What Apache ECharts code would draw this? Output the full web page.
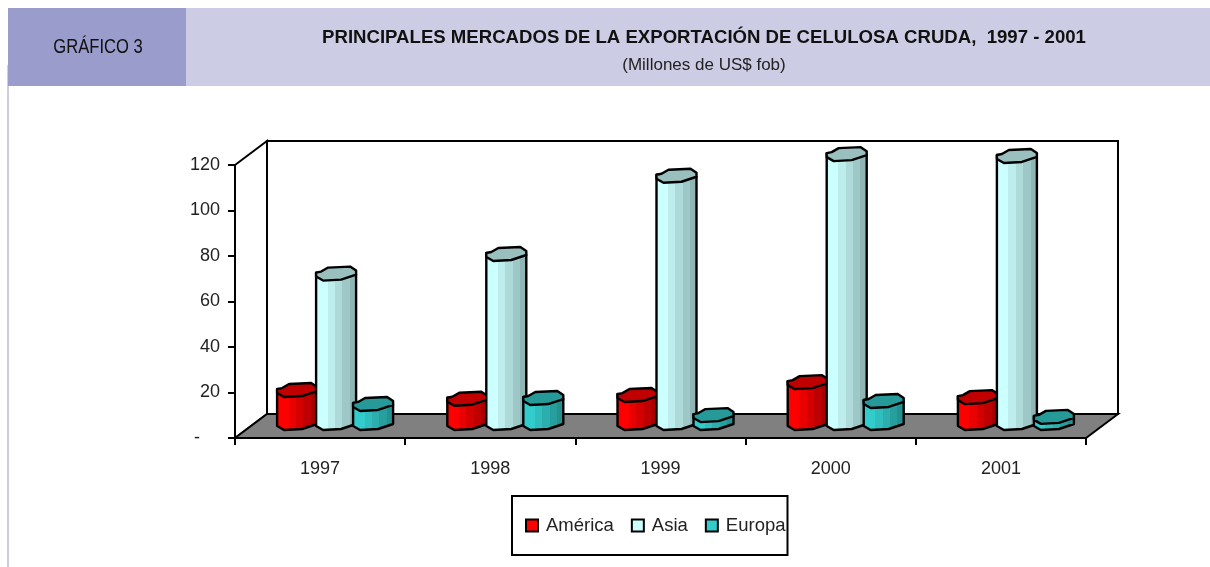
<!DOCTYPE html>
<html>
<head>
<meta charset="utf-8">
<title>Gráfico 3</title>
<script src="https://cdn.jsdelivr.net/npm/echarts@6/dist/echarts.min.js"></script>
<style>
  html, body { margin: 0; padding: 0; background: #fff; }
  #chart { width: 1210px; height: 567px; }
</style>
</head>
<body>
<div id="chart"></div>
<script>
const years = ["1997", "1998", "1999", "2000", "2001"];
const america = [15.8, 12, 13.6, 19.3, 12.7];
const asia = [67, 75.6, 110, 119.5, 118.7];
const europa = [9.7, 12.3, 4.8, 11, 4];

const FONT = '"Liberation Sans", Arial, sans-serif';
const DEPTH_X = 32, DEPTH_Y = 24; // floor depth in px

// outline of the cylinder cap around its centre, the way excel draws it at low res
const capBack = [[-20, -1], [-15, -2], [-8, -6], [14, -7], [20, -3]];
const capFront = [[20, 1], [5, 6], [-13, 7], [-20, 3]];

function bands(left, right) {
  // stepped gradient, excel shades cylinders in strips
  const n = 5, stops = [];
  const l = echarts.color.parse(left), r = echarts.color.parse(right);
  for (let i = 0; i < n; i++) {
    const t = i / (n - 1);
    const c = "rgb(" + [0, 1, 2].map((k) => Math.round(l[k] + (r[k] - l[k]) * t)).join(",") + ")";
    const from = i === 0 ? 0 : 0.3 + (i - 1) * 0.175;
    const to = 0.3 + i * 0.175;
    stops.push({ offset: from, color: c }, { offset: to, color: c });
  }
  return new echarts.graphic.LinearGradient(0, 0, 1, 0, stops);
}

function cylinder(shift, colLeft, colRight, colTop) {
  return (params, api) => {
    const top = api.coord([api.value(0), api.value(1)]);
    const base = api.coord([api.value(0), 0]);
    const cx = top[0] + DEPTH_X / 2 + shift;
    const yTop = top[1] - DEPTH_Y / 2;
    const yBase = base[1] - DEPTH_Y / 2 - 3;
    const at = (p, y) => [cx + p[0], y + p[1]];
    const body = capFront.map((p) => at(p, yBase))
      .concat([at([-20, -1], yTop), at([20, 1], yTop)]);
    return {
      type: "group",
      children: [
        { type: "polygon", shape: { points: body },
          style: { fill: bands(colLeft, colRight), stroke: "#000", lineWidth: 2.4, lineJoin: "round" } },
        { type: "polygon", shape: { points: capBack.concat(capFront).map((p) => at(p, yTop)) },
          style: { fill: colTop, stroke: "#000", lineWidth: 2.4, lineJoin: "round" } },
      ],
    };
  };
}

function room(params, api) {
  const g = params.coordSys;
  const x0 = g.x, x1 = g.x + g.width, y0 = g.y, y1 = g.y + g.height;
  const line = { stroke: "#000", lineWidth: 2 };
  return {
    type: "group",
    children: [
      { type: "polygon", shape: { points: [[x0 + DEPTH_X, y0 - DEPTH_Y], [x1 + DEPTH_X, y0 - DEPTH_Y], [x1 + DEPTH_X, y1 - DEPTH_Y], [x0 + DEPTH_X, y1 - DEPTH_Y]] },
        style: { fill: "#fff", ...line } },
      { type: "polygon", shape: { points: [[x0, y0], [x0 + DEPTH_X, y0 - DEPTH_Y], [x0 + DEPTH_X, y1 - DEPTH_Y], [x0, y1]] },
        style: { fill: "#fff", ...line } },
      { type: "polygon", shape: { points: [[x0, y1], [x0 + DEPTH_X, y1 - DEPTH_Y], [x1 + DEPTH_X, y1 - DEPTH_Y], [x1, y1]] },
        style: { fill: "#808080", ...line } },
    ],
  };
}

const toData = (arr) => arr.map((v, i) => [i, v]);

const chart = echarts.init(document.getElementById("chart"), null, { renderer: "canvas" });
chart.setOption({
  animation: false,
  backgroundColor: "#fff",
  graphic: [
    { type: "rect", z: -1, shape: { x: 7, y: 65, width: 2, height: 502 }, style: { fill: "#ccccE4" } },
    { type: "rect", z: -1, shape: { x: 8, y: 8, width: 178, height: 78 }, style: { fill: "#9a9dcc" } },
    { type: "rect", z: -1, shape: { x: 186, y: 8, width: 1024, height: 78 }, style: { fill: "#ccccE4" } },
    // no narrow font on the box, so squeeze this one
    { type: "text", z: 5, x: 98, y: 47, scaleX: 0.79,
      style: { text: "GRÁFICO 3", font: "21px " + FONT, fill: "#111", textAlign: "center", textVerticalAlign: "middle" } },
  ],
  title: [
    { text: "PRINCIPALES MERCADOS DE LA EXPORTACIÓN DE CELULOSA CRUDA,  1997 - 2001", left: 704, top: 28, textAlign: "center", padding: 0,
      textStyle: { fontFamily: FONT, fontSize: 18.6, fontWeight: "bold", color: "#111" } },
    { text: "(Millones de US$ fob)", left: 704, top: 57, textAlign: "center", padding: 0,
      textStyle: { fontFamily: FONT, fontSize: 17, fontWeight: "normal", color: "#222" } },
  ],
  legend: {
    data: [
      { name: "América", itemStyle: { color: "#ff0000" } },
      { name: "Asia", itemStyle: { color: "#ccffff" } },
      { name: "Europa", itemStyle: { color: "#33cccc" } },
    ],
    left: 512, top: 496,
    padding: [20, 2, 20, 13],
    itemGap: 17, itemWidth: 12, itemHeight: 12, icon: "rect",
    itemStyle: { borderColor: "#000", borderWidth: 2 },
    borderColor: "#000", borderWidth: 2,
    textStyle: { fontFamily: FONT, fontSize: 18.5, color: "#222", padding: [0, 0, 0, 3] },
  },
  grid: { left: 235, top: 165, width: 851, height: 273 },
  xAxis: {
    type: "category", data: years,
    axisLine: { lineStyle: { color: "#000", width: 2 } },
    axisTick: { show: true, length: 7, lineStyle: { color: "#000", width: 2 } },
    axisLabel: { fontFamily: FONT, fontSize: 18, color: "#222", margin: 22 },
  },
  yAxis: {
    type: "value", min: 0, max: 120, interval: 20,
    splitLine: { show: false },
    axisLine: { show: true, lineStyle: { color: "#000", width: 2 } },
    axisTick: { show: true, length: 7, lineStyle: { color: "#000", width: 2 } },
    axisLabel: { fontFamily: FONT, fontSize: 18, color: "#222", margin: 15, padding: [3, 0, 0, 0],
      formatter: (v) => (v === 0 ? "-\u00a0\u00a0\u00a0\u00a0" : String(v)) },
  },
  series: [
    { type: "custom", name: "room", data: [[0, 0]], renderItem: room, silent: true, z: 1 },
    { type: "custom", name: "América", data: toData(america), z: 2,
      renderItem: cylinder(-39, "#ff0000", "#a80000", "#c00000") },
    { type: "custom", name: "Asia", data: toData(asia), z: 3,
      renderItem: cylinder(0, "#ccffff", "#8fb5b5", "#99bfbf") },
    { type: "custom", name: "Europa", data: toData(europa), z: 4,
      renderItem: cylinder(37, "#33cccc", "#249090", "#269999") },
  ],
});
</script>
</body>
</html>
